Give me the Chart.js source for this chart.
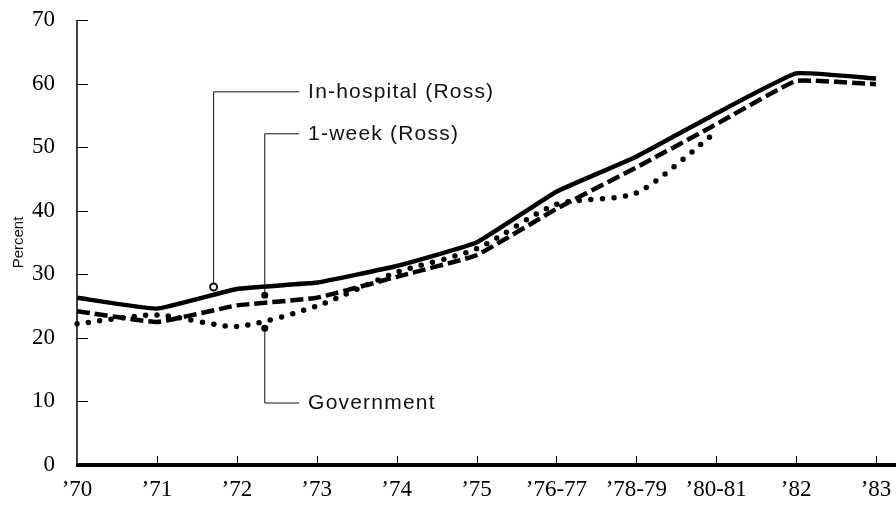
<!DOCTYPE html>
<html>
<head>
<meta charset="utf-8">
<script src="https://cdn.jsdelivr.net/npm/chart.js@4/dist/chart.umd.min.js"></script>
<style>
  html, body { margin: 0; padding: 0; background: #fff; }
  #wrap { width: 896px; height: 521px; position: relative; }
</style>
</head>
<body>
<div id="wrap"><canvas id="c" width="896" height="521"></canvas></div>
<script>
// ---- data ----
const years = ['\u201970','\u201971','\u201972','\u201973','\u201974','\u201975','\u201976-77','\u201978-79','\u201980-81','\u201982','\u201983'];
const inHospitalRoss = [26.3, 24.6, 27.7, 28.7, 31.3, 35.0, 43.0, 48.5, 55.3, 61.6, 60.8];
const oneWeekRoss    = [24.2, 22.5, 25.1, 26.3, 29.6, 33.0, 40.3, 46.8, 53.6, 60.4, 59.9];
const government     = [22.2, 23.6, 21.8, 25.0, 30.3, 34.0, 41.0, 42.8, 52.4, null, null];
const yTicks = [0, 10, 20, 30, 40, 50, 60, 70];

// leader-line annotations (category index / value units)
const noteLabels  = ['In-hospital (Ross)', '1-week (Ross)', 'Government'];
const noteAnchorX = [1.71, 2.35, 2.35];
const noteAnchorY = [28.0, 26.7, 21.5];
const noteLabelY  = [58.7, 52.1, 9.75];
const noteMarker  = ['open', 'filled', 'filled'];
const noteLineEndX = 2.78;

const serif = "'Liberation Serif', 'Times New Roman', serif";
const sans = "'Liberation Sans', Arial, sans-serif";

const axesPlugin = {
  id: 'axesPlugin',
  afterDatasetsDraw(chart) {
    const ctx = chart.ctx;
    const a = chart.chartArea;
    const xs = chart.scales.x, ys = chart.scales.y;
    ctx.save();
    ctx.strokeStyle = '#000';
    // y axis line
    ctx.lineWidth = 1.5;
    ctx.beginPath();
    ctx.moveTo(a.left, ys.getPixelForValue(70));
    ctx.lineTo(a.left, a.bottom);
    ctx.stroke();
    // y ticks (inward)
    yTicks.forEach(v => {
      if (v === 0) return;
      const y = Math.round(ys.getPixelForValue(v)) + 0.5;
      ctx.lineWidth = 1;
      ctx.beginPath();
      ctx.moveTo(a.left, y);
      ctx.lineTo(a.left + 11, y);
      ctx.stroke();
    });
    // x ticks (inward)
    years.forEach((_, i) => {
      if (i === 0) return;
      const x = Math.round(xs.getPixelForValue(i)) + 0.5;
      ctx.lineWidth = 1;
      ctx.beginPath();
      ctx.moveTo(x, a.bottom);
      ctx.lineTo(x, a.bottom - 9);
      ctx.stroke();
    });
    // x axis thick line, extends to the canvas edge
    ctx.lineWidth = 4;
    ctx.beginPath();
    ctx.moveTo(a.left - 1, a.bottom);
    ctx.lineTo(chart.width, a.bottom);
    ctx.stroke();

    // annotations
    const xEnd = xs.getPixelForValue(noteLineEndX);
    noteLabels.forEach((txt, k) => {
      const ax = xs.getPixelForValue(noteAnchorX[k]);
      const ay = ys.getPixelForValue(noteAnchorY[k]);
      const ly = ys.getPixelForValue(noteLabelY[k]);
      ctx.strokeStyle = '#111';
      ctx.lineWidth = 1;
      ctx.beginPath();
      ctx.moveTo(ax, ay);
      ctx.lineTo(ax, ly);
      ctx.lineTo(xEnd, ly);
      ctx.stroke();
      // marker
      ctx.beginPath();
      ctx.arc(ax, ay, 3.5, 0, Math.PI * 2);
      if (noteMarker[k] === 'open') {
        ctx.fillStyle = '#fff';
        ctx.fill();
        ctx.lineWidth = 2;
        ctx.stroke();
      } else {
        ctx.fillStyle = '#000';
        ctx.fill();
      }
      // text
      ctx.fillStyle = '#111';
      ctx.font = '21px ' + sans;
      try { ctx.letterSpacing = '1.2px'; } catch (e) {}
      ctx.textBaseline = 'middle';
      ctx.textAlign = 'left';
      ctx.fillText(txt, xEnd + 9, ly);
      try { ctx.letterSpacing = '0px'; } catch (e) {}
    });
    ctx.restore();
  }
};

new Chart(document.getElementById('c'), {
  type: 'line',
  data: {
    labels: years,
    datasets: [
      {
        label: 'In-hospital (Ross)',
        data: inHospitalRoss,
        borderColor: '#000',
        borderWidth: 4.5,
        tension: 0.1,
        pointRadius: 0,
        fill: false,
        borderCapStyle: 'butt',
        borderJoinStyle: 'round'
      },
      {
        label: '1-week (Ross)',
        data: oneWeekRoss,
        borderColor: '#000',
        borderWidth: 4.5,
        borderDash: [13, 5],
        tension: 0.1,
        pointRadius: 0,
        fill: false
      },
      {
        label: 'Government',
        data: government,
        borderColor: '#000',
        borderWidth: 5.5,
        borderDash: [0, 11.5],
        borderCapStyle: 'round',
        tension: 0.25,
        pointRadius: 0,
        fill: false,
        spanGaps: false
      }
    ]
  },
  options: {
    responsive: false,
    animation: false,
    devicePixelRatio: 1,
    layout: { padding: { top: 20, right: 20, left: 0, bottom: 0 } },
    plugins: {
      legend: { display: false },
      tooltip: { enabled: false },
      title: { display: false }
    },
    scales: {
      x: {
        type: 'category',
        offset: false,
        grid: { display: false },
        border: { display: false },
        ticks: {
          color: '#000',
          font: { family: serif, size: 23 },
          padding: 3,
          maxRotation: 0,
          autoSkip: false
        },
        afterFit(s) { s.height = 56; s.paddingLeft = 0; s.paddingRight = 0; }
      },
      y: {
        min: 0,
        max: 70,
        grid: { display: false },
        border: { display: false },
        ticks: {
          stepSize: 10,
          color: '#000',
          font: { family: serif, size: 23 },
          padding: 14
        },
        title: {
          display: true,
          text: 'Percent',
          color: '#111',
          font: { family: sans, size: 15 },
          padding: { top: 10, bottom: 0 }
        },
        afterFit(s) { s.width = 77; s.paddingTop = 0; s.paddingBottom = 0; }
      }
    }
  },
  plugins: [axesPlugin]
});
</script>
</body>
</html>
